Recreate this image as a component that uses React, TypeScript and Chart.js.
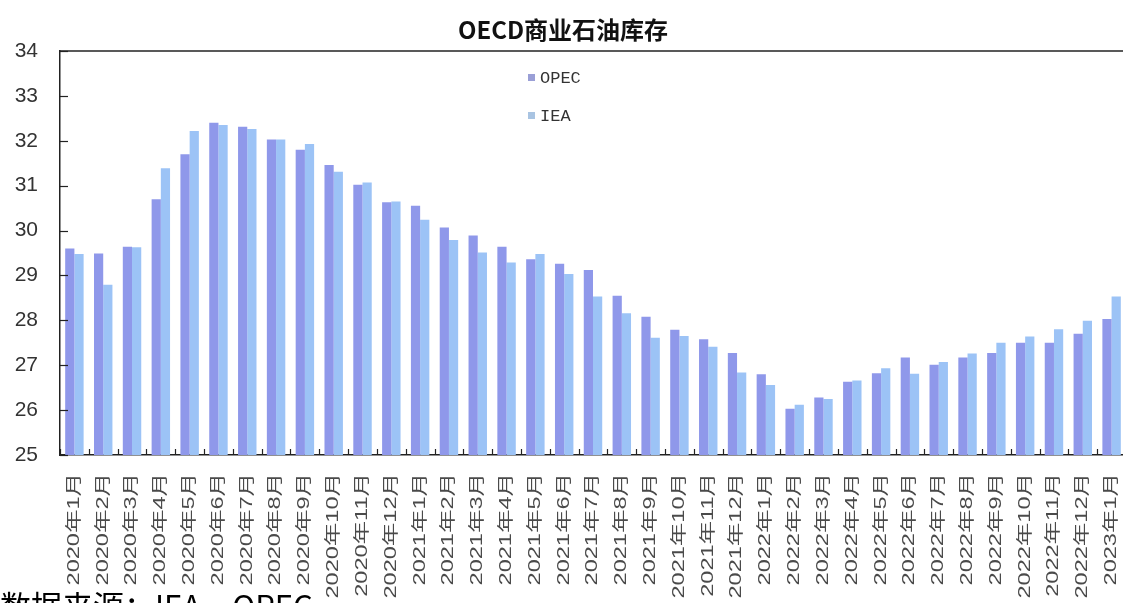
import React, { useEffect, useRef } from "react";
import { Chart, registerables } from "chart.js";

Chart.register(...registerables);

// Monthly OECD commercial oil inventories (100 million barrels)
const months = [
  "2020年1月", "2020年2月", "2020年3月", "2020年4月", "2020年5月", "2020年6月",
  "2020年7月", "2020年8月", "2020年9月", "2020年10月", "2020年11月", "2020年12月",
  "2021年1月", "2021年2月", "2021年3月", "2021年4月", "2021年5月", "2021年6月",
  "2021年7月", "2021年8月", "2021年9月", "2021年10月", "2021年11月", "2021年12月",
  "2022年1月", "2022年2月", "2022年3月", "2022年4月", "2022年5月", "2022年6月",
  "2022年7月", "2022年8月", "2022年9月", "2022年10月", "2022年11月", "2022年12月",
  "2023年1月",
];

const opecValues = [
  29.6, 29.49, 29.64, 30.7, 31.7, 32.4, 32.31, 32.03, 31.8, 31.46, 31.02, 30.63,
  30.55, 30.07, 29.89, 29.64, 29.36, 29.26, 29.12, 28.55, 28.08, 27.79, 27.58, 27.27,
  26.8, 26.03, 26.28, 26.63, 26.82, 27.17, 27.01, 27.17, 27.27, 27.5, 27.5, 27.7,
  28.03,
];

const ieaValues = [
  29.48, 28.79, 29.63, 31.39, 32.22, 32.35, 32.26, 32.03, 31.93, 31.31, 31.07, 30.65,
  30.24, 29.79, 29.51, 29.29, 29.48, 29.03, 28.53, 28.16, 27.61, 27.65, 27.41, 26.84,
  26.56, 26.12, 26.25, 26.66, 26.93, 26.81, 27.07, 27.26, 27.5, 27.64, 27.8, 27.99,
  28.53,
];

const yMin = 25;
const yMax = 34;

const CANVAS_W = 1160;
const CANVAS_H = 603;

// Frame line on top, inward tick marks, stretched vertical month labels and the inset legend
const decorPlugin = {
  id: "decor",
  afterDraw(chart: any) {
    const { ctx, chartArea } = chart;
    const xs = chart.scales.x;
    const ys = chart.scales.y;
    ctx.save();

    // top frame line
    ctx.strokeStyle = "#222";
    ctx.lineWidth = 1.5;
    ctx.beginPath();
    ctx.moveTo(chartArea.left, chartArea.top);
    ctx.lineTo(chartArea.right, chartArea.top);
    ctx.stroke();

    // y tick marks pointing into the plot
    ctx.lineWidth = 1.2;
    ys.ticks.forEach((t: any) => {
      const y = Math.round(ys.getPixelForValue(t.value)) + 0.5;
      ctx.beginPath();
      ctx.moveTo(chartArea.left, y);
      ctx.lineTo(chartArea.left + 8, y);
      ctx.stroke();
    });

    // x tick marks between categories, pointing up
    for (let i = 0; i <= months.length; i++) {
      const x = Math.round(xs.getPixelForValue(i - 0.5)) + 0.5;
      ctx.beginPath();
      ctx.moveTo(x, chartArea.bottom);
      ctx.lineTo(x, chartArea.bottom - 6);
      ctx.stroke();
    }

    // month labels, rotated to read upward
    ctx.fillStyle = "#4a4a4a";
    ctx.font = "16px 'Liberation Sans', 'Noto Sans CJK SC', sans-serif";
    ctx.textAlign = "right";
    ctx.textBaseline = "middle";
    months.forEach((label, i) => {
      const x = xs.getPixelForTick(i);
      ctx.save();
      ctx.translate(x, chartArea.bottom + 18);
      ctx.rotate(-Math.PI / 2);
      ctx.scale(1.47, 1);
      ctx.fillText(label, 0, 0);
      ctx.restore();
    });

    // legend inside the plot
    const legendX = chartArea.left + 468;
    const legendY = chartArea.top + 27;
    ctx.font = "17px 'Liberation Mono', monospace";
    ctx.textAlign = "left";
    ctx.textBaseline = "middle";
    chart.data.datasets.forEach((ds: any, i: number) => {
      const cy = legendY + i * 38;
      ctx.fillStyle = ds.legendColor;
      ctx.fillRect(legendX, cy - 4, 7, 7);
      ctx.fillStyle = "#333";
      ctx.fillText(ds.label, legendX + 12, cy);
    });

    ctx.restore();
  },
};

export default function App() {
  const canvasRef = useRef<HTMLCanvasElement>(null);

  useEffect(() => {
    const canvas = canvasRef.current;
    if (!canvas) return;
    const chart = new Chart(canvas, {
      type: "bar",
      data: {
        labels: months,
        datasets: [
          {
            label: "OPEC",
            data: opecValues,
            backgroundColor: "#8f98ea",
            legendColor: "#9a9fd6",
            categoryPercentage: 0.64,
            barPercentage: 1.0,
            borderWidth: 0,
          } as any,
          {
            label: "IEA",
            data: ieaValues,
            backgroundColor: "#9cc3f6",
            legendColor: "#a9c4e2",
            categoryPercentage: 0.64,
            barPercentage: 1.0,
            borderWidth: 0,
          } as any,
        ],
      },
      options: {
        animation: false,
        responsive: false,
        devicePixelRatio: 1,
        layout: { padding: { left: 0, right: CANVAS_W - 1126, top: 0, bottom: 0 } },
        plugins: {
          legend: { display: false },
          tooltip: { enabled: false },
          title: {
            display: true,
            text: "OECD商业石油库存",
            color: "#111",
            font: { size: 24, weight: "bold", family: "'Noto Sans CJK SC', sans-serif" },
            padding: { top: 15, bottom: 7.2 },
          },
        },
        scales: {
          x: {
            offset: true,
            grid: { display: false },
            border: { display: true, color: "#222", width: 1.5 },
            ticks: { display: false },
            afterFit: (scale: any) => {
              scale.height = CANVAS_H - 455;
            },
          },
          y: {
            min: yMin,
            max: yMax,
            grid: { display: false, drawTicks: false },
            border: { display: true, color: "#222", width: 1.5 },
            ticks: {
              stepSize: 1,
              padding: 22,
              color: "#333",
              font: { size: 21, family: "'Liberation Sans', sans-serif" },
            },
            afterFit: (scale: any) => {
              scale.width = 60;
            },
          },
        },
      },
      plugins: [decorPlugin],
    });
    return () => chart.destroy();
  }, []);

  return (
    <div
      style={{
        position: "fixed",
        left: 0,
        top: 0,
        width: 1123,
        height: 603,
        overflow: "hidden",
        background: "#fff",
      }}
    >
      <canvas
        ref={canvasRef}
        width={CANVAS_W}
        height={CANVAS_H}
        style={{ position: "absolute", left: 0, top: 0, width: CANVAS_W, height: CANVAS_H }}
      />
      <div
        style={{
          position: "absolute",
          left: 0,
          top: 589,
          fontSize: 31,
          lineHeight: 1,
          whiteSpace: "nowrap",
          color: "#000",
          fontFamily: "'Noto Sans CJK SC', sans-serif",
        }}
      >
        数据来源：IEA、OPEC
      </div>
    </div>
  );
}
